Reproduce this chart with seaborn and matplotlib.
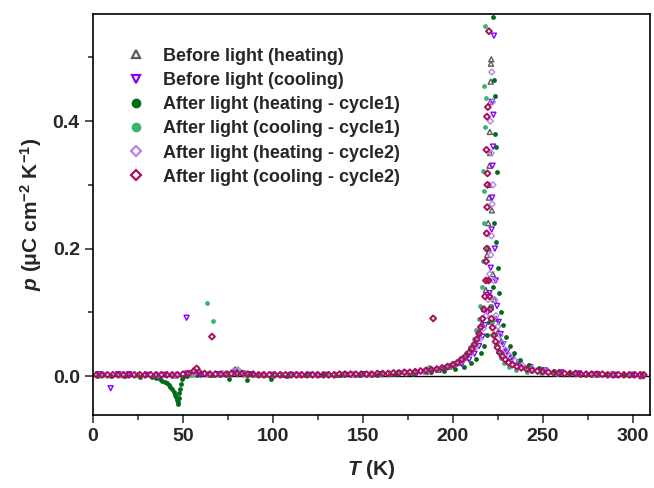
import pandas as pd
import seaborn as sns
import matplotlib
matplotlib.use("Agg")
import matplotlib.pyplot as plt
from matplotlib.lines import Line2D
from matplotlib.ticker import MultipleLocator

# Before light (heating)
T_bh = [5, 15, 25, 35, 45, 55, 65, 75, 79, 80,
        82, 85, 95, 105, 115, 125, 135, 145, 155, 165,
        175, 185, 192, 198, 203, 207, 210, 212.5, 214.5, 216,
        217.3, 218.3, 219, 219.6, 220, 220.3, 220.5, 220.8, 221, 221.3,
        220.6, 220.2, 221.1, 219.8, 221.6, 222.2, 223, 224, 225.2, 226.8,
        229, 232, 236, 242, 250, 260, 270, 280, 290, 300, 304.8]
p_bh = [.002, .002, .002, .002, .001, .003, .003, .004, .0105, .009,
        .006, .003, .002, .002, .002, .002, .002, .003, .003, .004,
        .005, .007, .010, .015, .021, .029, .038, .05, .065, .082,
        .105, .135, .19, .24, .28, .33, .383, .43, .462, .497,
        .35, .3, .49, .2, .26, .16, .12, .09, .07, .055,
        .04, .03, .022, .015, .01, .006, .004, .003, .002, .002, .0]

# Before light (cooling)
T_bc = [3, 9.8, 14, 20, 30, 40, 52, 52.3, 60, 70,
        78, 88, 100, 110, 120, 130, 140, 150, 160, 170,
        180, 188, 195, 201, 205, 209, 212, 214.5, 216.5, 218,
        219.3, 220.3, 221, 221.5, 221.8, 222, 222.3, 222.5, 221.7, 222.8,
        223.3, 223.8, 224.5, 225.4, 226.5, 228, 230, 233, 237, 243,
        251, 260, 270, 280, 290, 300, 305]
p_bc = [.003, -.019, .003, .003, .002, .002, .0915, .004, .002, .003,
        .005, .003, .002, .002, .002, .002, .002, .003, .003, .004,
        .005, .007, .01, .014, .019, .026, .035, .047, .062, .08,
        .1, .13, .17, .23, .28, .33, .36, .41, .43, .534,
        .2, .15, .11, .085, .066, .05, .038, .028, .02, .014,
        .009, .006, .004, .003, .002, .002, .001]

# After light (heating - cycle1)
T_ah1 = [3, 10, 18, 26, 33, 35, 37, 38.5, 40, 41,
         42, 43, 44, 44.8, 45.5, 46, 46.5, 47, 47.3, 47.6,
         48, 48.3, 48.7, 49.2, 50, 52, 58, 66, 75.7, 80,
         82, 84, 85.4, 87, 92, 99, 108, 118, 128, 138,
         148, 158, 168, 178, 188, 195, 201, 206, 210, 213,
         215.5, 217.5, 219, 220.3, 221.3, 222, 222.4, 222.8, 223.2, 223.5,
         223.9, 224.3, 222.6, 223.7, 224.8, 225.5, 226.5, 227.8, 229.5, 231.5,
         234, 237.5, 242, 248, 256, 265, 275, 285, 295, 304]
p_ah1 = [.0, .0, .0, -.001, -.002, -.003, -.005, -.007, -.009, -.011,
         -.014, -.017, -.021, -.025, -.029, -.033, -.038, -.043, -.04, -.035,
         -.027, -.02, -.012, -.005, -.001, .0, .001, .002, -.005, .006,
         .007, .006, -.006, .004, .001, -.005, .0, .001, .001, .001,
         .002, .002, .003, .004, .006, .008, .011, .015, .02, .027,
         .036, .048, .064, .085, .11, .14, .564, .465, .38, .44,
         .36, .32, .24, .21, .17, .13, .1, .08, .062, .048,
         .036, .026, .018, .012, .008, .005, .004, .003, .002, .002]

# After light (cooling - cycle1)
T_ac1 = [4, 14, 24, 34, 44, 54, 63.2, 66.8, 70, 80,
         90, 100, 110, 120, 130, 140, 150, 160, 170, 178,
         186.9, 190, 196, 200, 204, 207, 209.5, 211.5, 213, 214.3,
         215.3, 216.2, 216.8, 217.2, 217.4, 217.8, 216.5, 218.2, 217.4, 217.8,
         219, 219.8, 220.6, 221.5, 222.5, 223.7, 225, 226.5, 228.5, 231,
         235, 241, 249, 258, 268, 278, 288, 298, 305]
p_ac1 = [.001, .001, .001, .001, .001, .002, .114, .086, .002, .004,
         .002, .002, .002, .002, .002, .003, .003, .004, .005, .007,
         .0136, .011, .016, .021, .028, .036, .046, .058, .072, .09,
         .11, .14, .18, .24, .455, .391, .322, .437, .29, .549,
         .2, .15, .11, .085, .065, .05, .038, .029, .021, .015,
         .01, .007, .005, .004, .003, .002, .002, .002, .001]

# After light (heating - cycle2)
T_ah2 = [6, 16, 26, 36, 46, 56, 64, 72, 78, 80.5,
         84, 94, 104, 114, 124, 134, 144, 154, 164, 174,
         184, 191, 197, 202, 206, 209.5, 212.5, 215, 217, 218.5,
         219.6, 220.4, 221, 221.4, 221.8, 222.2, 221.2, 220.8, 222, 221.6,
         222.6, 223.2, 224, 225, 226.2, 227.5, 229.2, 231.5, 234.5, 238.5,
         244, 251, 259, 268, 278, 288, 298, 305]
p_ah2 = [.002, .002, .002, .002, .002, .004, .003, .004, .008, .01,
         .004, .002, .002, .002, .002, .002, .003, .003, .004, .005,
         .007, .01, .014, .019, .026, .034, .045, .058, .075, .095,
         .12, .16, .19, .22, .27, .3, .35, .4, .43, .477,
         .15, .12, .095, .078, .064, .052, .041, .032, .024, .017,
         .012, .008, .006, .004, .003, .003, .002, .002]

# After light (cooling - cycle2)
T_ac2 = [2, 5, 8, 11, 14, 17, 20, 23, 26, 29,
         32, 35, 38, 41, 44, 47, 50, 53, 56, 59,
         62, 65, 68, 71, 74, 77, 80, 83, 86, 89,
         92, 95, 98, 101, 104, 107, 110, 113, 116, 119,
         122, 125, 128, 131, 134, 137, 140, 143, 146, 149,
         152, 155, 158, 161, 164, 167, 170, 173, 176, 179,
         182, 185, 188, 191, 194, 197, 200, 57.6, 66.1, 189,
         202.5, 205, 207, 209, 210.5, 212, 213.3, 214.5, 215.5, 216.4,
         217.2, 217.8, 218.3, 218.4, 218.7, 219, 219.2, 218.6, 218.9, 219.4,
         220, 218.8, 219.1, 219.8, 220.3, 220.8, 221.4, 222, 222.8, 223.7,
         224.7, 226, 227.5, 229, 231, 233, 235.5, 238, 241, 244,
         247, 250, 253, 256, 259, 262, 265, 268, 271, 274,
         277, 280, 283, 286, 289, 292, 295, 298, 301, 304,
         306]
p_ac2 = [.002, .002, .002, .002, .002, .002, .002, .002, .002, .002,
         .002, .002, .002, .002, .002, .002, .003, .004, .008, .006,
         .004, .003, .003, .003, .003, .004, .004, .004, .003, .003,
         .002, .002, .002, .002, .002, .002, .002, .002, .002, .002,
         .002, .002, .002, .002, .002, .003, .003, .003, .003, .003,
         .003, .003, .004, .004, .004, .005, .005, .006, .006, .007,
         .008, .009, .01, .011, .013, .015, .018, .012, .062, .0905,
         .021, .026, .031, .037, .043, .05, .058, .067, .077, .09,
         .105, .125, .15, .18, .224, .265, .318, .355, .407, .422,
         .541, .2, .3, .15, .125, .105, .09, .076, .064, .054,
         .045, .037, .031, .026, .021, .018, .015, .013, .011, .009,
         .008, .007, .006, .005, .005, .004, .004, .004, .003, .003,
         .003, .003, .003, .002, .002, .002, .002, .002, .002, .002,
         .002]

labels = ["Before light (heating)", "Before light (cooling)",
          "After light (heating - cycle1)", "After light (cooling - cycle1)",
          "After light (heating - cycle2)", "After light (cooling - cycle2)"]
colors = ["#5a5a5a", "#8a00ff", "#006b1a", "#3cb371", "#b587e6", "#a8105e"]
markers = ["^", "v", "o", "o", "D", "D"]
filled = [False, False, True, True, False, False]
sizes = [13, 13, 12, 12, 9, 9]
edge_w = [1.0, 1.0, 0, 0, 1.0, 1.4]

series = [(T_bh, p_bh), (T_bc, p_bc), (T_ah1, p_ah1),
          (T_ac1, p_ac1), (T_ah2, p_ah2), (T_ac2, p_ac2)]
frames = []
for lab, (T, p) in zip(labels, series):
    frames.append(pd.DataFrame({"T": T, "p": p, "series": lab}))
df = pd.concat(frames, ignore_index=True)

sns.set_style("ticks")
plt.rcParams["font.family"] = ["Liberation Sans", "DejaVu Sans"]
plt.rcParams["font.weight"] = "bold"
plt.rcParams["mathtext.fontset"] = "custom"
plt.rcParams["mathtext.rm"] = "Liberation Sans:bold"
plt.rcParams["mathtext.it"] = "Liberation Sans:italic:bold"
plt.rcParams["mathtext.bf"] = "Liberation Sans:bold"

fig = plt.figure(figsize=(6.54, 4.88), dpi=100)
ax = fig.add_axes([0.1422, 0.1496, 0.8517, 0.8217])
ax.axhline(0, color="black", lw=1.0, zorder=1)

for lab, c, m, f, s, lw in zip(labels, colors, markers, filled, sizes, edge_w):
    sub = df[df["series"] == lab]
    if f:
        sns.scatterplot(data=sub, x="T", y="p", marker=m, color=c, s=s,
                        linewidth=0, ax=ax, legend=False, zorder=2)
    else:
        sns.scatterplot(data=sub, x="T", y="p", marker=m, facecolor="none",
                        edgecolor=c, s=s, linewidth=lw, ax=ax, legend=False, zorder=2)

handles = []
for c, m, f, lw in zip(colors, markers, filled, edge_w):
    if f:
        handles.append(Line2D([], [], ls="", marker=m, color=c, markersize=6))
    else:
        handles.append(Line2D([], [], ls="", marker=m, markerfacecolor="none",
                              markeredgecolor=c, markeredgewidth=max(lw, 1.6), markersize=5.5))
ax.legend(handles, labels, loc="upper left", bbox_to_anchor=(0.061, 0.916),
          frameon=False, handlelength=1.0, handletextpad=1.0, labelspacing=0.4,
          borderpad=0, borderaxespad=0, prop={"size": 13, "weight": "bold"})

ax.set_xlim(0, 309.5)
ax.set_ylim(-0.061, 0.568)
ax.xaxis.set_major_locator(MultipleLocator(50))
ax.xaxis.set_minor_locator(MultipleLocator(25))
ax.yaxis.set_major_locator(MultipleLocator(0.2))
ax.yaxis.set_minor_locator(MultipleLocator(0.1))
ax.tick_params(which="major", direction="out", length=6, width=1.1, labelsize=14)
ax.tick_params(which="minor", direction="out", length=3.5, width=1.1)
for sp in ax.spines.values():
    sp.set_linewidth(1.2)
    sp.set_color("black")

ax.set_xlabel(r"$T$ (K)", fontsize=15, fontweight="bold", labelpad=9)
ax.set_ylabel(r"$p$ (μC cm$^{-2}$ K$^{-1}$)", fontsize=15, fontweight="bold", labelpad=6)

fig.savefig("out.png", dpi=100)
